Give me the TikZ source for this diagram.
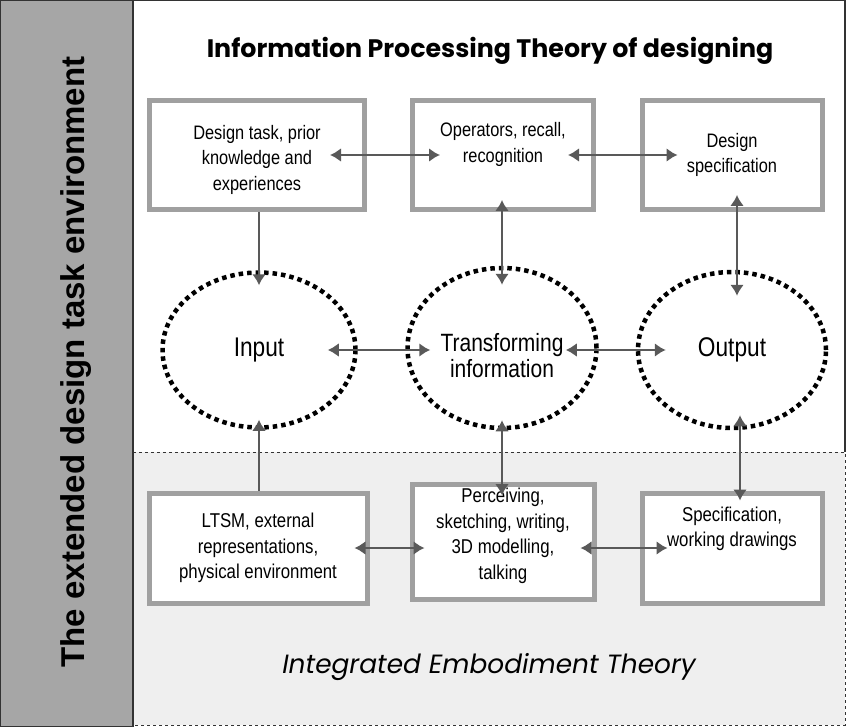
\documentclass[tikz,border=0pt]{standalone}
\usepackage{fontspec}
\setmainfont{Liberation Sans}
\newfontfamily\narrowfont[FakeStretch=0.84]{Liberation Sans}
\newfontfamily\geofont{Poppins}
\usetikzlibrary{shapes.geometric}
\usetikzlibrary{arrows.meta}
\pgfdeclarelayer{background}
\pgfdeclarelayer{nodelayer}
\pgfdeclarelayer{edgelayer}
\pgfsetlayers{background,nodelayer,edgelayer,main}
\definecolor{boxgray}{HTML}{A0A0A0}
\definecolor{arrowgray}{HTML}{595959}
\definecolor{bandgray}{HTML}{A6A6A6}
\definecolor{lowgray}{HTML}{EFEFEF}
\tikzstyle{box}=[rectangle,fill=white,draw=boxgray,line width=5pt,align=center,font=\narrowfont\fontsize{19.5}{25.5}\selectfont]
\tikzstyle{phase}=[ellipse,draw=black,line width=4.5pt,dash pattern=on 4.5pt off 4pt,align=center,font=\narrowfont\fontsize{27}{27}\selectfont]
\tikzstyle{link}=[{Latex[length=11pt,width=14pt]}-{Latex[length=11pt,width=14pt]},draw=arrowgray,line width=2.4pt]
\tikzstyle{feed}=[-{Latex[length=11pt,width=14pt]},draw=arrowgray,line width=2.4pt]

\begin{document}
\begin{tikzpicture}[x=1pt,y=-1pt]
	\useasboundingbox (0,0) rectangle (850,727);
	\begin{pgfonlayer}{background}
		\fill [lowgray] (133,452) rectangle (845,725);
		\draw [black!80, dashed, line width=1pt] (133,452) -- (845,452) -- (845,725) -- (133,725);
		\draw [black!80, line width=1.2pt] (133,452) -- (133,0.6) -- (845,0.6) -- (845,452);
		\draw [fill=bandgray, draw=black!80, line width=1.2pt] (0.6,0.6) rectangle (133,726.4);
	\end{pgfonlayer}
	\node (title) at (490,51) {\geofont\bfseries\fontsize{25.3}{27}\selectfont Information Processing Theory of designing};
	\node [rotate=90] (env) at (76,362) {\bfseries\fontsize{33}{35}\selectfont The extended design task environment};
	\node (iet) at (489,667) {\geofont\itshape\fontsize{26.4}{28}\selectfont Integrated Embodiment Theory};
	\begin{pgfonlayer}{nodelayer}
		\node [style=box, minimum width=215, minimum height=109, text height=75] (0) at (257,155) {Design task, prior\\knowledge and\\experiences};
		\node [style=box, minimum width=181, minimum height=109, text depth=25] (1) at (503,155) {Operators, recall,\\recognition};
		\node [style=box, minimum width=180, minimum height=109] (2) at (732,155) {Design\\specification};
		\node [style=phase, minimum width=193, minimum height=155] (3) at (259,350) {Input};
		\node [style=phase, minimum width=189, minimum height=160, text height=60, font=\narrowfont\fontsize{25}{26}\selectfont] (4) at (502,348) {Transforming\\information};
		\node [style=phase, minimum width=188, minimum height=156] (5) at (732,350) {Output};
		\node [style=box, minimum width=218, minimum height=110, font=\narrowfont\fontsize{20}{25.5}\selectfont] (6) at (258,548) {LTSM, external\\representations,\\physical environment};
		\node [style=box, minimum width=182, minimum height=111, text depth=17, font=\narrowfont\fontsize{20}{25.5}\selectfont] (7) at (503,542) {Perceiving,\\sketching, writing,\\3D modelling,\\talking};
		\node [style=box, minimum width=180, minimum height=110, text depth=43, font=\narrowfont\fontsize{20}{25.5}\selectfont] (8) at (732,548) {Specification,\\working drawings};
	\end{pgfonlayer}
	\begin{pgfonlayer}{edgelayer}
		\draw [style=link] ([xshift=-37]0.east) to ([xshift=30]1.west);
		\draw [style=link] ([xshift=-28]1.east) to ([xshift=38]2.west);
		\draw [style=feed] (0.south -| 3.north) to ([yshift=-15]3.north);
		\draw [style=link] ([yshift=12]1.south -| 4.north) to ([yshift=-19]4.north);
		\draw [style=link] ([xshift=5,yshift=17]2.south) to ([xshift=5,yshift=-26]5.north);
		\draw [style=link] ([xshift=-30]3.east) to ([xshift=25]4.west |- 3.east);
		\draw [style=link] ([xshift=-33]4.east |- 5.west) to ([xshift=30]5.west);
		\draw [style=feed] (6.north -| 3.south) to ([yshift=10]3.south);
		\draw [style=link] ([yshift=10]4.south) to ([yshift=-13]7.north -| 4.south);
		\draw [style=link] ([xshift=8,yshift=15]5.south) to ([xshift=8,yshift=-10]8.north);
		\draw [style=link] ([xshift=-15]6.east) to ([xshift=15]6.east -| 7.west);
		\draw [style=link] ([xshift=-16]7.east |- 8.east) to ([xshift=28]8.west);
	\end{pgfonlayer}
\end{tikzpicture}
\end{document}
